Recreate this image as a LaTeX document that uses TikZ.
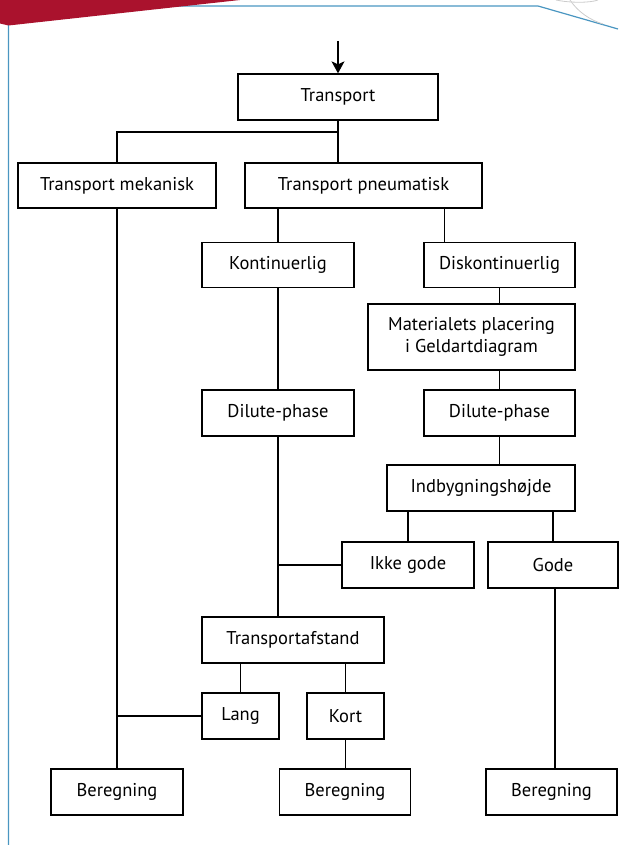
\documentclass[tikz,border=0pt]{standalone}
\usepackage{fontspec}
\setmainfont{PT Sans}
\usetikzlibrary{arrows.meta}
\definecolor{framered}{RGB}{170,18,45}
\definecolor{frameblue}{RGB}{74,150,193}
\begin{document}
\begin{tikzpicture}[x=1pt, y=-1pt,
    box/.style={rectangle, draw, line width=1.3pt, inner sep=0pt, minimum height=46pt, align=center, font=\fontsize{18.5}{22}\selectfont},
    link/.style={line width=1.3pt}]
    \useasboundingbox (0,0) rectangle (618,845);

    % page frame
    \draw[frameblue, line width=1.2pt] (8.5,845) -- (8.5,6) -- (538,6) -- (618,29);
    \draw[black!20, line width=0.8pt] (570,0) .. controls (578,12) and (590,20) .. (603,24);
    \draw[black!20, line width=0.8pt] (556,0) .. controls (570,3) and (590,3) .. (598,0);
    \fill[framered] (0,0) -- (240,0) -- (8.5,25.5) -- (0,23.5) -- cycle;

    \node[box, minimum width=200pt] (transport) at (338,97) {Transport};
    \node[box, minimum width=198pt, minimum height=45pt] (mek) at (117,185.5) {Transport mekanisk};
    \node[box, minimum width=237pt, minimum height=45pt] (pneu) at (363.5,185.5) {Transport pneumatisk};
    \node[box, minimum width=152pt, minimum height=45pt] (kont) at (278,265) {Kontinuerlig};
    \node[box, minimum width=151pt, minimum height=45pt] (disk) at (499.5,265) {Diskontinuerlig};
    \node[box, minimum width=207pt, minimum height=66pt] (mat) at (471.5,337) {Materialets placering\\i Geldartdiagram};
    \node[box, minimum width=152pt] (dil1) at (278,413) {Dilute-phase};
    \node[box, minimum width=151pt] (dil2) at (499.5,413) {Dilute-phase};
    \node[box, minimum width=188pt] (indb) at (481,488) {Indbygningshøjde};
    \node[box, minimum width=132pt] (ikke) at (408,565) {Ikke gode};
    \node[box, minimum width=130pt] (gode) at (553,565) {Gode};
    \node[box, minimum width=182pt] (afst) at (293,640) {Transportafstand};
    \node[box, minimum width=77pt] (lang) at (240.5,716) {Lang};
    \node[box, minimum width=77pt] (kort) at (345.5,716) {Kort};
    \node[box, minimum width=132pt] (ber1) at (117,792) {Beregning};
    \node[box, minimum width=131pt] (ber2) at (345,792) {Beregning};
    \node[box, minimum width=131pt] (ber3) at (551.5,792) {Beregning};

    \coordinate (in) at (338,41);
    \coordinate (split) at (338,132);

    \draw[link, -{Stealth[length=12pt, width=13pt, inset=3pt]}] (in) -- (transport.north);
    \draw[link] (transport.south) -- (transport.south |- pneu.north);
    \draw[link] (mek.north) |- (split);
    \draw[link] (kont.north) -- (kont.north |- pneu.south);
    \draw[link] ([xshift=21pt]disk.north west) -- ([xshift=21pt]disk.north west |- pneu.south);
    \draw[link] (disk.south) -- (disk.south |- mat.north);
    \draw[link] (dil2.north) -- (dil2.north |- mat.south);
    \draw[link] (dil2.south) -- (dil2.south |- indb.north);
    \draw[link] (ikke.north) -- (ikke.north |- indb.south);
    \draw[link] (gode.north) -- (gode.north |- indb.south);
    \draw[link] ([xshift=2pt]gode.south) -- ([xshift=2pt]gode.south |- ber3.north);
    \draw[link] (kont.south) -- (dil1.north);
    \draw[link] (dil1.south) -- (dil1.south |- afst.north);
    \draw[link] (ikke.west) -- (ikke.west -| dil1.south);
    \draw[link] (lang.north) -- (lang.north |- afst.south);
    \draw[link] (kort.north) -- (kort.north |- afst.south);
    \draw[link] (kort.south) -- (kort.south |- ber2.north);
    \draw[link] (mek.south) -- (mek.south |- ber1.north);
    \draw[link] (lang.west) -- (lang.west -| mek.south);
\end{tikzpicture}
\end{document}
